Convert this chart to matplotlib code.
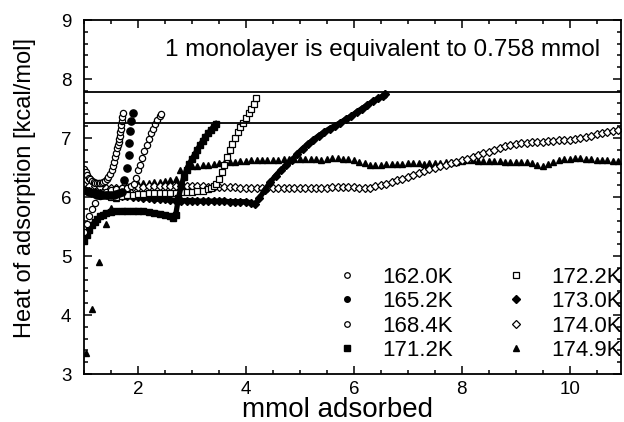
import matplotlib
matplotlib.use("Agg")
import matplotlib.pyplot as plt
from matplotlib.ticker import MultipleLocator

plt.rcParams['font.family'] = ['Liberation Sans', 'DejaVu Sans']

# 162.0K  open circles
x1620 = [1.00, 1.03, 1.06, 1.09, 1.12, 1.15, 1.18, 1.21, 1.24, 1.27, 1.30, 1.33, 1.36, 1.39,
         1.42, 1.45, 1.48, 1.51, 1.54, 1.56, 1.58, 1.60, 1.62, 1.63, 1.64, 1.65, 1.66, 1.67,
         1.68, 1.69, 1.70, 1.71, 1.72]
y1620 = [6.48, 6.42, 6.37, 6.33, 6.30, 6.27, 6.25, 6.24, 6.23, 6.23, 6.23, 6.24, 6.25, 6.27,
         6.30, 6.34, 6.39, 6.45, 6.53, 6.60, 6.67, 6.75, 6.83, 6.88, 6.93, 6.98, 7.04, 7.10,
         7.16, 7.22, 7.28, 7.35, 7.42]

# 165.2K  filled circles
x1652 = [1.00, 1.05, 1.10, 1.15, 1.20, 1.25, 1.30, 1.35, 1.40, 1.45, 1.50, 1.55, 1.60, 1.65,
         1.70, 1.74, 1.80, 1.83, 1.83, 1.86, 1.87, 1.90]
y1652 = [6.12, 6.10, 6.08, 6.06, 6.05, 6.04, 6.03, 6.03, 6.03, 6.03, 6.04, 6.04, 6.05, 6.06,
         6.08, 6.29, 6.50, 6.71, 6.91, 7.12, 7.28, 7.42]

# 168.4K  open circles
x1684 = [1.00, 1.05, 1.10, 1.15, 1.20, 1.30, 1.40, 1.50, 1.60, 1.70, 1.80, 1.88, 1.92, 1.96,
         2.00, 2.04, 2.08, 2.12, 2.16, 2.20, 2.24, 2.28, 2.32, 2.36, 2.40, 2.42]
y1684 = [5.41, 5.55, 5.68, 5.80, 5.90, 6.02, 6.08, 6.12, 6.14, 6.15, 6.16, 6.18, 6.22, 6.32,
         6.45, 6.55, 6.66, 6.78, 6.88, 6.98, 7.08, 7.16, 7.24, 7.31, 7.37, 7.40]

# 171.2K  filled squares
x1712 = [1.00, 1.05, 1.10, 1.15, 1.20, 1.25, 1.30, 1.35, 1.40, 1.50, 1.60, 1.70, 1.80, 1.90,
         2.00, 2.10, 2.20, 2.30, 2.40, 2.50, 2.60, 2.65, 2.70, 2.75, 2.80, 2.85, 2.90, 2.95,
         3.00, 3.05, 3.10, 3.15, 3.20, 3.25, 3.30, 3.35, 3.40, 3.45]
y1712 = [5.25, 5.35, 5.44, 5.52, 5.58, 5.63, 5.67, 5.70, 5.73, 5.75, 5.76, 5.77, 5.77, 5.77,
         5.77, 5.76, 5.75, 5.73, 5.72, 5.70, 5.67, 5.65, 5.70, 5.98, 6.18, 6.34, 6.46, 6.56,
         6.64, 6.72, 6.80, 6.88, 6.95, 7.02, 7.08, 7.14, 7.19, 7.24]

# 172.2K  open squares
x1722 = [1.5, 1.6, 1.7, 1.8, 1.9, 2.0, 2.1, 2.2, 2.3, 2.4, 2.5, 2.6, 2.7, 2.8, 2.9, 3.0, 3.1,
         3.2, 3.3, 3.35, 3.40, 3.45, 3.50, 3.55, 3.60, 3.65, 3.70, 3.75, 3.80, 3.85, 3.90,
         3.95, 4.00, 4.05, 4.10, 4.15, 4.19]
y1722 = [6.00, 6.00, 6.02, 6.03, 6.04, 6.05, 6.05, 6.06, 6.06, 6.06, 6.07, 6.07, 6.07, 6.08,
         6.08, 6.09, 6.10, 6.11, 6.13, 6.15, 6.18, 6.22, 6.30, 6.42, 6.55, 6.68, 6.80, 6.90,
         7.00, 7.10, 7.18, 7.26, 7.34, 7.42, 7.50, 7.58, 7.67]

# 173.0K  filled diamonds
x1730 = [1.0, 1.1, 1.2, 1.3, 1.4, 1.5, 1.6, 1.7, 1.8, 1.9, 2.0, 2.1, 2.2, 2.3, 2.4, 2.5, 2.6,
         2.7, 2.8, 2.9, 3.0, 3.1, 3.2, 3.3, 3.4, 3.5, 3.6, 3.7, 3.8, 3.9, 4.0, 4.1, 4.17,
         4.25, 4.35, 4.45, 4.55, 4.65, 4.75, 4.85, 4.95, 5.05, 5.15, 5.25, 5.35, 5.45, 5.55,
         5.65, 5.75, 5.85, 5.95, 6.05, 6.15, 6.25, 6.35, 6.45, 6.55, 6.58]
y1730 = [6.12, 6.10, 6.08, 6.07, 6.05, 6.04, 6.03, 6.02, 6.01, 6.00, 6.00, 5.99, 5.98, 5.97,
         5.96, 5.96, 5.95, 5.94, 5.94, 5.94, 5.94, 5.93, 5.93, 5.93, 5.93, 5.93, 5.93, 5.92,
         5.92, 5.92, 5.92, 5.90, 5.88, 5.98, 6.12, 6.25, 6.36, 6.46, 6.54, 6.62, 6.73, 6.82,
         6.90, 6.97, 7.04, 7.10, 7.16, 7.21, 7.26, 7.32, 7.37, 7.44, 7.50, 7.56, 7.62, 7.67,
         7.72, 7.75]

# 174.0K  open diamonds
x1740 = [1.0, 1.1, 1.2, 1.3, 1.4, 1.5, 1.6, 1.7, 1.8, 1.9,
         2.0, 2.1, 2.2, 2.3, 2.4, 2.5, 2.6, 2.7, 2.8, 2.9,
         3.0, 3.1, 3.2, 3.3, 3.4, 3.5, 3.6, 3.7, 3.8, 3.9,
         4.0, 4.1, 4.2, 4.3, 4.4, 4.5, 4.6, 4.7, 4.8, 4.9,
         5.0, 5.1, 5.2, 5.3, 5.4, 5.5, 5.6, 5.7, 5.8, 5.9,
         6.0, 6.1, 6.2, 6.3, 6.4, 6.5, 6.6, 6.7, 6.8, 6.9,
         7.0, 7.1, 7.2, 7.3, 7.4, 7.5, 7.6, 7.7, 7.8, 7.9,
         8.0, 8.1, 8.2, 8.3, 8.4, 8.5, 8.6, 8.7, 8.8, 8.9,
         9.0, 9.1, 9.2, 9.3, 9.4, 9.5, 9.6, 9.7, 9.8, 9.9,
         10.0, 10.1, 10.2, 10.3, 10.4, 10.5, 10.6, 10.7, 10.8, 10.9]
y1740 = [6.20, 6.19, 6.18, 6.17, 6.16, 6.16, 6.16, 6.16, 6.17, 6.17,
         6.17, 6.17, 6.18, 6.18, 6.18, 6.18, 6.18, 6.18, 6.18, 6.18,
         6.18, 6.18, 6.18, 6.17, 6.17, 6.17, 6.17, 6.17, 6.17, 6.16,
         6.16, 6.16, 6.16, 6.16, 6.15, 6.15, 6.15, 6.15, 6.15, 6.15,
         6.15, 6.15, 6.15, 6.16, 6.16, 6.16, 6.17, 6.17, 6.17, 6.17,
         6.17, 6.16, 6.15, 6.16, 6.18, 6.20, 6.22, 6.25, 6.28, 6.31,
         6.34, 6.37, 6.41, 6.44, 6.47, 6.50, 6.53, 6.55, 6.57, 6.60,
         6.62, 6.65, 6.68, 6.71, 6.74, 6.77, 6.80, 6.83, 6.86, 6.88,
         6.90, 6.91, 6.92, 6.93, 6.94, 6.94, 6.95, 6.95, 6.96, 6.96,
         6.97, 6.98, 7.00, 7.02, 7.04, 7.06, 7.08, 7.10, 7.12, 7.14]

# 174.9K  filled triangles
x1749 = [1.04, 1.15, 1.28, 1.40, 1.50, 1.60, 1.70, 1.80, 1.90,
         2.0, 2.1, 2.2, 2.3, 2.4, 2.5, 2.6, 2.7, 2.78, 2.9,
         3.0, 3.1, 3.2, 3.3, 3.4, 3.5, 3.6, 3.7, 3.8, 3.9,
         4.0, 4.1, 4.2, 4.3, 4.4, 4.5, 4.6, 4.7, 4.8, 4.9,
         5.0, 5.1, 5.2, 5.3, 5.4, 5.5, 5.6, 5.7, 5.8, 5.9,
         6.0, 6.1, 6.2, 6.3, 6.4, 6.5, 6.6, 6.7, 6.8, 6.9,
         7.0, 7.1, 7.2, 7.3, 7.4, 7.5, 7.6, 7.7, 7.8, 7.9,
         8.0, 8.1, 8.2, 8.3, 8.4, 8.5, 8.6, 8.7, 8.8, 8.9,
         9.0, 9.1, 9.2, 9.3, 9.4, 9.5, 9.6, 9.7, 9.8, 9.9,
         10.0, 10.1, 10.2, 10.3, 10.4, 10.5, 10.6, 10.7, 10.8, 10.9]
y1749 = [3.35, 4.10, 4.90, 5.55, 5.82, 5.98, 6.08, 6.15, 6.20,
         6.22, 6.23, 6.24, 6.25, 6.26, 6.27, 6.28, 6.30, 6.46, 6.52,
         6.53, 6.53, 6.54, 6.55, 6.56, 6.57, 6.58, 6.59, 6.60, 6.61,
         6.61, 6.62, 6.63, 6.63, 6.63, 6.63, 6.63, 6.64, 6.64, 6.64,
         6.65, 6.65, 6.65, 6.64, 6.63, 6.65, 6.66, 6.66, 6.65, 6.64,
         6.62, 6.59, 6.57, 6.55, 6.55, 6.55, 6.56, 6.56, 6.56, 6.56,
         6.57, 6.57, 6.57, 6.56, 6.57, 6.58, 6.58, 6.59, 6.60, 6.60,
         6.61, 6.62, 6.62, 6.61, 6.61, 6.61, 6.61, 6.61, 6.60, 6.60,
         6.60, 6.60, 6.59, 6.58, 6.54, 6.52, 6.56, 6.60, 6.62, 6.64,
         6.65, 6.66, 6.66, 6.65, 6.64, 6.63, 6.62, 6.62, 6.61, 6.61]

monolayer_lines = [7.775, 7.26]

fig = plt.figure(figsize=(6.24, 4.22), dpi=100)
ax = fig.add_axes([0.1346, 0.1137, 0.8605, 0.8389])

open_kw = dict(ls='none', mfc='white', mec='black', mew=0.9)
# wide stuff first so the open markers sit on top
ax.plot(x1749, y1749, ls='none', marker='^', ms=5, color='black', label='174.9K')
ax.plot(x1740, y1740, marker='D', ms=4.2, label='174.0K', **open_kw)
ax.plot(x1730, y1730, ls='-', lw=3.8, marker='D', ms=4.2, color='black', label='173.0K')
ax.plot(x1722, y1722, marker='s', ms=5, label='172.2K', **open_kw)
ax.plot(x1712, y1712, ls='-', lw=3.8, marker='s', ms=4.2, color='black', label='171.2K')
ax.plot(x1684, y1684, marker='o', ms=4.5, label='168.4K', **open_kw)
ax.plot(x1652, y1652, ls='none', marker='o', ms=5.2, color='black', label='165.2K')
ax.plot(x1620, y1620, marker='o', ms=4.5, label='162.0K', **open_kw)

for yl in monolayer_lines:
    ax.axhline(yl, color='black', lw=1.3)

ax.set_xlim(1, 10.95)
ax.set_ylim(3, 9)
ax.xaxis.set_major_locator(MultipleLocator(2))
ax.xaxis.set_minor_locator(MultipleLocator(0.5))
ax.yaxis.set_major_locator(MultipleLocator(1))
ax.yaxis.set_minor_locator(MultipleLocator(0.2))
ax.tick_params(which='both', direction='in', top=True, right=True, labelsize=13.5, width=1.1)
ax.tick_params(which='major', length=6)
ax.tick_params(which='minor', length=3)
ax.tick_params(axis='y', pad=9)
ax.tick_params(axis='x', pad=5)
for s in ax.spines.values():
    s.set_linewidth(1.3)

ax.set_xlabel('mmol adsorbed', fontsize=20)
ax.xaxis.set_label_coords(0.473, -0.064)
ax.set_ylabel('Heat of adsorption [kcal/mol]', fontsize=17)
ax.yaxis.set_label_coords(-0.09, 0.525)

ax.text(0.962, 0.915, '1 monolayer is equivalent to 0.758 mmol', transform=ax.transAxes,
        ha='right', va='center', fontsize=17.5)

handles, labels = ax.get_legend_handles_labels()
order = ['162.0K', '165.2K', '168.4K', '171.2K', '172.2K', '173.0K', '174.0K', '174.9K']
hmap = dict(zip(labels, handles))
leg = ax.legend([hmap[k] for k in order], order, ncol=2, frameon=False, fontsize=16,
                loc='lower right', bbox_to_anchor=(1.018, 0.012), borderaxespad=0,
                columnspacing=2.2, handletextpad=1.0, labelspacing=0.15, handlelength=1.2)
for h in leg.legend_handles:
    h.set_markersize(4)
    h.set_linestyle('none')

fig.savefig('out.png', dpi=100)
